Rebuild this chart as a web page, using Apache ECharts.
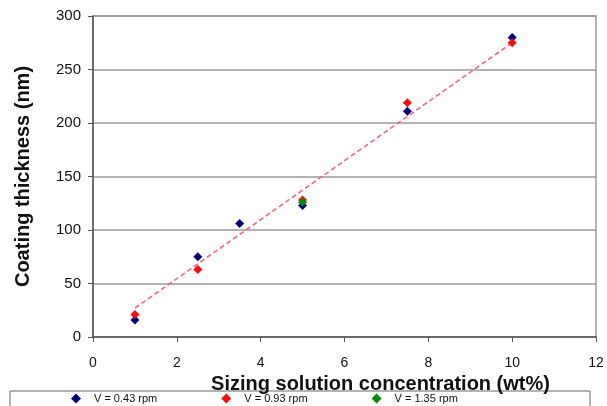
<!DOCTYPE html>
<html>
<head>
<meta charset="utf-8">
<script src="https://cdn.jsdelivr.net/npm/echarts@6/dist/echarts.min.js"></script>
<style>
  html, body { margin: 0; padding: 0; background: #fff; }
  #chart { width: 607px; height: 406px; }
</style>
</head>
<body>
<div id="chart"></div>
<script>
// values: [concentration wt%, thickness nm]
const seriesNames = ['V = 0.43 rpm', 'V = 0.93 rpm', 'V = 1.35 rpm'];
const v043 = [[1, 16], [2.5, 75], [3.5, 106], [5, 123], [7.5, 211], [10, 280]];
const v093 = [[1, 21], [2.5, 63], [5, 128], [7.5, 219], [10, 275]];
const v135 = [[5, 126]];
const trend = [[1, 27], [10, 275]];
const xTicks = [0, 2, 4, 6, 8, 10, 12];
const yTicks = [0, 50, 100, 150, 200, 250, 300];

const chart = echarts.init(document.getElementById('chart'));

const dot = (name, data, color) => ({
  name: name,
  type: 'scatter',
  data: data,
  symbol: 'diamond',
  symbolSize: 9,
  itemStyle: { color: color, opacity: 1 },
  z: 3
});

chart.setOption({
  animation: false,
  textStyle: { fontFamily: 'Liberation Sans, Arial, sans-serif' },
  grid: {
    left: 93, right: 11, top: 16, bottom: 69,
    show: true, borderColor: '#9a9a9a', borderWidth: 1.5
  },
  legend: {
    data: seriesNames,
    bottom: -3,
    left: 66,
    itemGap: 64,
    itemWidth: 10,
    itemHeight: 10,
    textStyle: { fontSize: 11, color: '#111', padding: [0, 0, 0, 8] }
  },
  graphic: [{
    type: 'rect',
    shape: { x: 10, y: 391, width: 580, height: 20 },
    style: { fill: 'none', stroke: '#666', lineWidth: 1 },
    silent: true
  }],
  xAxis: {
    type: 'value',
    min: 0, max: 12, interval: 2,
    name: 'Sizing solution concentration (wt%)',
    nameLocation: 'middle',
    nameGap: 29,
    nameTextStyle: { fontSize: 20, fontWeight: 'bold', color: '#111', padding: [0, 0, 0, 72] },
    axisLine: { lineStyle: { color: '#555', width: 1.5 } },
    axisTick: { show: true, length: 5, lineStyle: { color: '#555' } },
    axisLabel: { fontSize: 14, color: '#111', margin: 19, formatter: v => xTicks.includes(v) ? String(v) : '' },
    splitLine: { show: false }
  },
  yAxis: {
    type: 'value',
    min: 0, max: 300, interval: 50,
    name: 'Coating thickness (nm)',
    nameLocation: 'middle',
    nameGap: 60,
    nameTextStyle: { fontSize: 20, fontWeight: 'bold', color: '#111' },
    axisLine: { show: true, lineStyle: { color: '#555', width: 1.5 } },
    axisTick: { show: true, length: 5, lineStyle: { color: '#555' } },
    axisLabel: { fontSize: 15, color: '#111', margin: 12, formatter: v => yTicks.includes(v) ? String(v) : '' },
    splitLine: { show: true, lineStyle: { color: '#9a9a9a', width: 1.5 } }
  },
  series: [
    {
      name: 'trend',
      type: 'line',
      data: trend,
      symbol: 'none',
      lineStyle: { color: '#f0607a', width: 1.5, type: [5, 3] },
      z: 2
    },
    dot(seriesNames[0], v043, '#00007f'),
    dot(seriesNames[1], v093, '#ff0a0a'),
    dot(seriesNames[2], v135, '#0a8a0a')
  ]
});
</script>
</body>
</html>
